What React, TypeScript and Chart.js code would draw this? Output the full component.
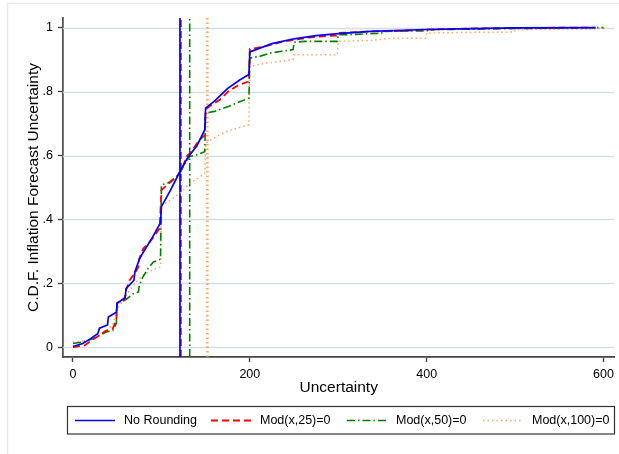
import React, { useEffect, useRef } from 'react';
import { Chart, registerables } from 'chart.js';

Chart.register(...registerables);

const FONT = '"Liberation Sans", Arial, Helvetica, sans-serif';

const X_TICKS = [0, 200, 400, 600];
const Y_TICKS = [0, 0.2, 0.4, 0.6, 0.8, 1];
const Y_TICK_LABELS = ['0', '.2', '.4', '.6', '.8', '1'];

const SERIES_LABELS = ['No Rounding', 'Mod(x,25)=0', 'Mod(x,50)=0', 'Mod(x,100)=0'];

// Empirical CDF, no rounding
const noRoundingX = [0, 11, 17, 28, 30, 39, 40, 49, 50, 59, 60, 69, 70, 75, 80, 90, 99, 100, 110, 121, 130, 140, 149, 150, 160, 175, 189, 199, 200, 225, 250, 275, 300, 336, 400, 450, 500, 591];
const noRoundingY = [0.003, 0.012, 0.022, 0.043, 0.06, 0.07, 0.095, 0.11, 0.139, 0.155, 0.184, 0.21, 0.236, 0.275, 0.3, 0.345, 0.39, 0.44, 0.49, 0.55, 0.595, 0.63, 0.68, 0.748, 0.77, 0.81, 0.837, 0.853, 0.924, 0.95, 0.965, 0.975, 0.981, 0.988, 0.994, 0.997, 0.999, 1.0];

// Empirical CDF, values with Mod(x,25)=0
const mod25X = [0, 13, 21, 30, 36, 45, 49, 50, 58, 60, 64, 70, 74, 75, 79.5, 87, 98, 100, 104, 113, 119, 125, 128.5, 134, 141.6, 147, 149, 150, 157, 166, 175.5, 187, 199, 200, 217, 234, 251, 264, 283, 299, 300, 336, 375, 400, 450, 500, 591];
const mod25Y = [0.001, 0.006, 0.022, 0.038, 0.05, 0.059, 0.085, 0.139, 0.147, 0.179, 0.21, 0.232, 0.252, 0.278, 0.309, 0.33, 0.372, 0.492, 0.502, 0.523, 0.539, 0.57, 0.597, 0.612, 0.644, 0.659, 0.663, 0.745, 0.759, 0.774, 0.8, 0.82, 0.832, 0.933, 0.941, 0.954, 0.962, 0.968, 0.973, 0.975, 0.983, 0.988, 0.99, 0.994, 0.997, 0.999, 1.0];

// Empirical CDF, values with Mod(x,50)=0
const mod50X = [0, 11, 22.6, 30, 37.6, 45, 49, 50, 60, 68, 74, 75, 79, 85, 91, 99, 100, 108, 115, 121, 126.6, 132, 140, 149, 150, 160, 170, 175.5, 185, 194, 199, 200, 211, 222.6, 236, 249, 250, 262, 299, 300, 313, 336, 349, 350, 400, 410, 450, 500, 600];
const mod50Y = [0.012, 0.017, 0.027, 0.038, 0.048, 0.053, 0.075, 0.139, 0.15, 0.168, 0.173, 0.194, 0.22, 0.247, 0.267, 0.276, 0.508, 0.515, 0.529, 0.545, 0.575, 0.597, 0.602, 0.612, 0.733, 0.738, 0.748, 0.753, 0.764, 0.774, 0.78, 0.905, 0.91, 0.92, 0.926, 0.931, 0.954, 0.957, 0.957, 0.978, 0.978, 0.981, 0.982, 0.988, 0.99, 0.994, 0.995, 0.997, 1.0];

// Empirical CDF, values with Mod(x,100)=0
const mod100X = [0, 15, 26, 36, 45, 50, 57, 64, 72, 79, 89, 99, 100, 104, 113, 123, 132, 141.6, 149, 150, 162, 174, 185, 199, 200, 219, 234, 249, 250, 299, 300, 336, 362, 399, 400, 450, 499, 500, 588, 602];
const mod100Y = [0.017, 0.022, 0.032, 0.048, 0.07, 0.12, 0.147, 0.179, 0.205, 0.226, 0.241, 0.252, 0.445, 0.45, 0.466, 0.487, 0.513, 0.529, 0.544, 0.638, 0.659, 0.675, 0.685, 0.696, 0.879, 0.889, 0.894, 0.9, 0.915, 0.915, 0.957, 0.96, 0.967, 0.967, 0.983, 0.985, 0.986, 0.994, 0.996, 0.998];

// Mean uncertainty of each distribution
const MEANS = [121, 122, 132, 152];

const X_MIN = -11.3;
const X_MAX = 612.4;
const Y_MIN = -0.03;
const Y_MAX = 1.03;

const GRID_COLOR = '#d2e0e4';

const STYLES = [
  { color: '#0000ff', width: 1.7, dash: [] as number[], vWidth: 1.7 },
  { color: '#ff0000', width: 1.8, dash: [7, 4], vWidth: 1.8 },
  { color: '#008000', width: 1.6, dash: [8, 3, 1.5, 3], vWidth: 1.6 },
  { color: 'rgba(255,145,50,0.8)', width: 1.5, dash: [1.5, 3], vWidth: 2.6 },
];

const SERIES = [
  [noRoundingX, noRoundingY],
  [mod25X, mod25Y],
  [mod50X, mod50Y],
  [mod100X, mod100Y],
];

const toPoints = (xs: number[], ys: number[]) => xs.map((x, i) => ({ x, y: ys[i] }));

// Background, outer frame, horizontal grid and the boxed legend
const framePlugin = {
  id: 'frameAndLegend',
  beforeDraw(chart: any) {
    const { ctx, width, height } = chart;
    ctx.save();
    ctx.fillStyle = '#ffffff';
    ctx.fillRect(0, 0, width, height);
    ctx.strokeStyle = '#e2ebee';
    ctx.lineWidth = 1.5;
    ctx.strokeRect(7.5, 3.5, width + 20, height + 20);
    ctx.restore();
  },
  beforeDatasetsDraw(chart: any) {
    const { ctx, chartArea, scales } = chart;
    ctx.save();
    ctx.strokeStyle = GRID_COLOR;
    ctx.lineWidth = 1.5;
    Y_TICKS.forEach((v) => {
      const py = Math.round(scales.y.getPixelForValue(v)) + 0.5;
      ctx.beginPath();
      ctx.moveTo(chartArea.left, py);
      ctx.lineTo(chartArea.right, py);
      ctx.stroke();
    });
    ctx.restore();
  },
  afterDraw(chart: any) {
    const { ctx } = chart;
    ctx.save();
    ctx.setLineDash([]);
    ctx.strokeStyle = '#333333';
    ctx.lineWidth = 1.2;
    ctx.strokeRect(67.5, 406.5, 547, 27.5);
    const cy = 420.5;
    SERIES_LABELS.forEach((label, i) => {
      const x0 = 75 + i * 136;
      const st = STYLES[i];
      ctx.beginPath();
      ctx.setLineDash(st.dash);
      ctx.strokeStyle = st.color;
      ctx.lineWidth = st.width;
      ctx.moveTo(x0, cy);
      ctx.lineTo(x0 + 40, cy);
      ctx.stroke();
      ctx.setLineDash([]);
      ctx.fillStyle = '#000000';
      ctx.font = `12.5px ${FONT}`;
      ctx.textBaseline = 'middle';
      ctx.textAlign = 'left';
      ctx.fillText(label, x0 + 49, cy);
    });
    ctx.restore();
  },
};

export default function App() {
  const canvasRef = useRef<HTMLCanvasElement | null>(null);

  useEffect(() => {
    const canvas = canvasRef.current;
    if (!canvas) return;

    const curveSets = SERIES.map(([xs, ys], i) => ({
      label: SERIES_LABELS[i],
      data: toPoints(xs, ys),
      borderColor: STYLES[i].color,
      borderWidth: STYLES[i].width,
      borderDash: STYLES[i].dash,
      pointRadius: 0,
      fill: false,
      tension: 0,
    }));

    const meanSets = MEANS.map((m, i) => ({
      label: `${SERIES_LABELS[i]} mean`,
      data: [
        { x: m, y: Y_MIN },
        { x: m, y: Y_MAX },
      ],
      borderColor: STYLES[i].color,
      borderWidth: STYLES[i].vWidth,
      borderDash: STYLES[i].dash,
      pointRadius: 0,
      fill: false,
      tension: 0,
    }));

    const chart = new Chart(canvas, {
      type: 'line',
      data: { datasets: [...curveSets, ...meanSets] as any },
      options: {
        animation: false,
        responsive: false,
        maintainAspectRatio: false,
        layout: { padding: { left: 0, right: 4, top: 18, bottom: 0 } },
        plugins: {
          legend: { display: false },
          tooltip: { enabled: false },
        },
        scales: {
          x: {
            type: 'linear',
            min: X_MIN,
            max: X_MAX,
            afterBuildTicks: (s: any) => {
              s.ticks = X_TICKS.map((v) => ({ value: v }));
            },
            afterFit: (s: any) => {
              s.height = 97;
            },
            grid: {
              drawOnChartArea: false,
              tickLength: 5,
              tickColor: '#444444',
              tickWidth: 1.4,
            },
            border: { color: '#444444', width: 1.8 },
            ticks: {
              font: { family: FONT, size: 12.5 },
              color: '#000000',
              padding: 5,
              maxRotation: 0,
              callback: (v: any) => String(v),
            },
            title: {
              display: true,
              text: 'Uncertainty',
              color: '#000000',
              font: { family: FONT, size: 15.5 },
              padding: { top: 0, bottom: 57.3 },
            },
          },
          y: {
            type: 'linear',
            min: Y_MIN,
            max: Y_MAX,
            afterBuildTicks: (s: any) => {
              s.ticks = Y_TICKS.map((v) => ({ value: v }));
            },
            afterFit: (s: any) => {
              s.width = 63;
            },
            grid: {
              drawOnChartArea: false,
              tickLength: 5,
              tickColor: '#444444',
              tickWidth: 1.4,
            },
            border: { color: '#555555', width: 1.8 },
            ticks: {
              font: { family: FONT, size: 12.5 },
              color: '#000000',
              padding: 5,
              callback: (v: any) => {
                const idx = Y_TICKS.findIndex((t) => Math.abs(t - Number(v)) < 1e-9);
                return idx >= 0 ? Y_TICK_LABELS[idx] : '';
              },
            },
            title: {
              display: true,
              text: 'C.D.F. Inflation Forecast Uncertainty',
              color: '#000000',
              font: { family: FONT, size: 15.5 },
              padding: { top: 24.5, bottom: 0 },
            },
          },
        },
      } as any,
      plugins: [framePlugin],
    });

    return () => {
      chart.destroy();
    };
  }, []);

  return (
    <div style={{ position: 'fixed', left: 0, top: 0, width: 619, height: 454, background: '#ffffff' }}>
      <canvas ref={canvasRef} width={619} height={454} style={{ display: 'block', width: 619, height: 454 }} />
    </div>
  );
}
